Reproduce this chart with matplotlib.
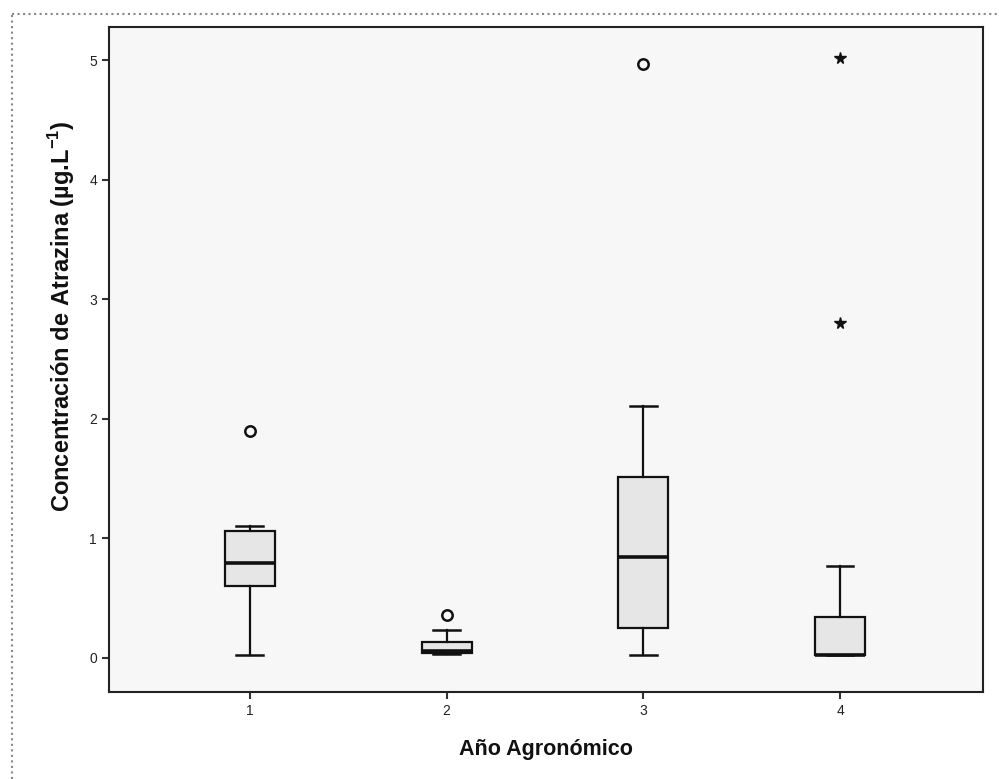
import matplotlib
matplotlib.use("Agg")
import matplotlib.pyplot as plt
from matplotlib.lines import Line2D

plt.rcParams['font.family'] = ['Liberation Sans', 'DejaVu Sans']
plt.rcParams['mathtext.fontset'] = 'custom'
plt.rcParams['mathtext.rm'] = 'Liberation Sans'
plt.rcParams['mathtext.bf'] = 'Liberation Sans:bold'

# boxplot summaries per agronomic year (ug/L)
years = [1, 2, 3, 4]
whis_low = [0.02, 0.03, 0.02, 0.02]
q1 = [0.60, 0.04, 0.25, 0.02]
medians = [0.79, 0.06, 0.84, 0.02]
q3 = [1.06, 0.13, 1.51, 0.34]
whis_high = [1.10, 0.23, 2.11, 0.77]
outliers = [[1.90], [0.36], [4.97], []]
extremes = [[], [], [], [5.02, 2.80]]

stats = []
for i in range(len(years)):
    stats.append({
        'whislo': whis_low[i], 'q1': q1[i], 'med': medians[i],
        'q3': q3[i], 'whishi': whis_high[i], 'fliers': outliers[i],
    })

fig = plt.figure(figsize=(9.99, 7.79), dpi=100)
ax = fig.add_axes([0.109, 0.112, 0.875, 0.853])
ax.set_facecolor('#f7f7f7')

ax.bxp(stats, positions=years, widths=0.254, capwidths=0.137,
       patch_artist=True, manage_ticks=False,
       boxprops=dict(facecolor='#e6e6e6', edgecolor='#111111', linewidth=1.6),
       medianprops=dict(color='#111111', linewidth=2.6),
       whiskerprops=dict(color='#111111', linewidth=1.6),
       capprops=dict(color='#111111', linewidth=1.8),
       flierprops=dict(marker='o', markersize=7.5, markerfacecolor='none',
                       markeredgecolor='#111111', markeredgewidth=1.8))

# extreme values drawn as stars
for x, vals in zip(years, extremes):
    if vals:
        ax.plot([x] * len(vals), vals, linestyle='none', marker='*',
                markersize=8.5, color='#111111')

ax.set_xlim(0.283, 4.727)
ax.set_ylim(-0.284, 5.276)
ax.set_xticks(years)
ax.set_xticklabels([str(y) for y in years])
ax.set_yticks([0, 1, 2, 3, 4, 5])
ax.set_yticklabels(['0', '1', '2', '3', '4', '5'])
ax.tick_params(axis='both', direction='out', length=5, width=1.5,
               labelsize=10, labelcolor='#222222', color='#333333')

for sp in ax.spines.values():
    sp.set_linewidth(1.5)
    sp.set_color('#222222')

ax.set_xlabel('Año Agronómico', fontsize=15.5, fontweight='bold', color='#111111')
ax.set_ylabel(r'Concentración de Atrazina (µg.L$^{\mathbf{-1}}$)', fontsize=17,
              fontweight='bold', color='#111111')
ax.xaxis.set_label_coords(0.5, -0.071)
ax.yaxis.set_label_coords(-0.037, 0.565)

# dotted page frame on the top and left edges
fig.add_artist(Line2D([0.012, 1.0], [0.982, 0.982], transform=fig.transFigure,
                      color='#888888', linestyle=':', linewidth=1.5))
fig.add_artist(Line2D([0.012, 0.012], [0.0, 0.982], transform=fig.transFigure,
                      color='#888888', linestyle=':', linewidth=1.5))

fig.savefig('out.png', dpi=100, facecolor='white')
